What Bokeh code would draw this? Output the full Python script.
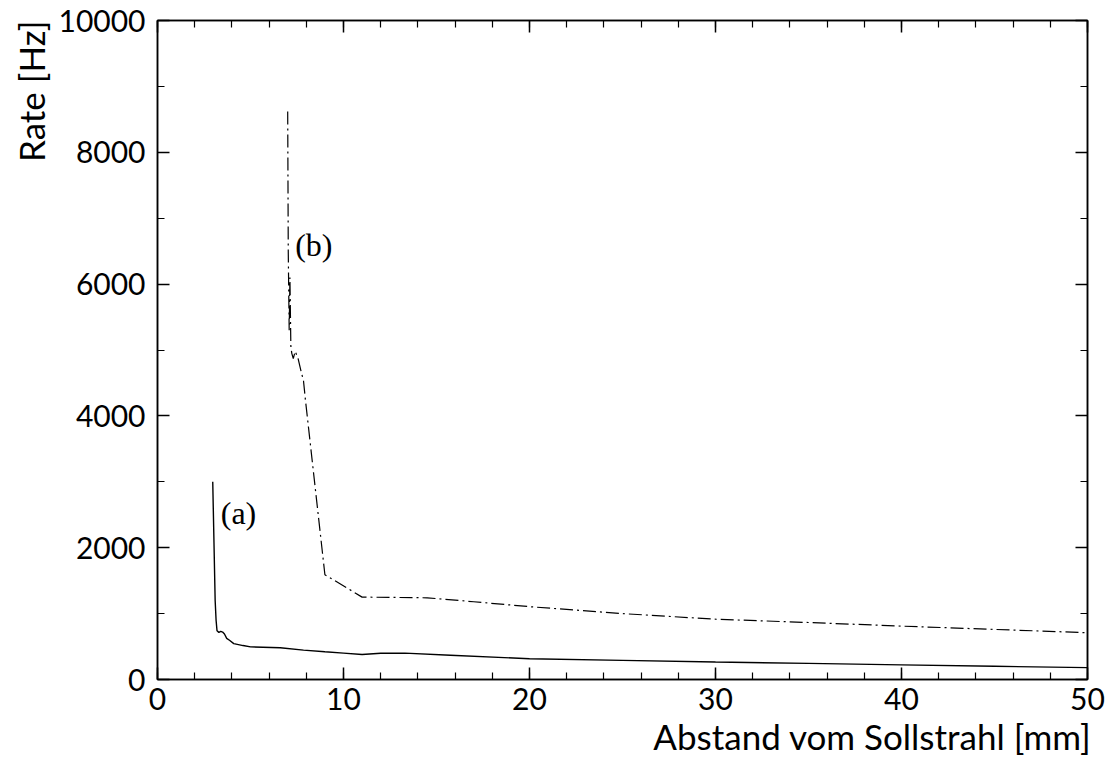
from bokeh.plotting import figure
from bokeh.models import Range1d, LinearAxis, SingleIntervalTicker, Title
from bokeh.core.properties import value
from bokeh.embed import file_html
from bokeh.resources import INLINE

# Curve (a): solid
a_x = [2.97, 3.1, 3.15, 3.2, 3.3, 3.4, 3.5, 3.6, 3.72, 3.87, 4.1, 4.6, 5.0, 6.6, 7.85,
       9.0, 10.0, 11.0, 12.0, 13.3, 15.75, 20, 25, 30, 35, 40, 45, 50]
a_y = [3000, 1200, 900, 740, 715, 730, 720, 690, 625, 595, 545, 515, 495, 482, 445,
       420, 400, 380, 398, 400, 368, 315, 290, 265, 245, 222, 200, 180]

# Curve (b): dash-dot
b_x = [7.0, 7.03, 7.08, 7.12, 7.17, 7.22, 7.3, 7.4, 7.55, 7.7, 7.85, 7.95, 9.0, 11.0,
       14.5, 17, 20, 25, 30, 35, 40, 45, 50]
b_y = [8620, 6500, 5300, 6100, 5050, 4950, 4870, 4980, 4880, 4700, 4530, 4250, 1590, 1250,
       1240, 1180, 1105, 1000, 915, 865, 810, 760, 710]

curve_labels = ["(a)", "(b)"]
label_x = [3.4, 7.4]
label_y = [2530, 6590]

x_ticks = [0, 10, 20, 30, 40, 50]
y_ticks = [0, 2000, 4000, 6000, 8000, 10000]

x_title = "Abstand vom Sollstrahl [mm]"
y_title = "Rate [Hz]"

TICK_FONT = "Lato"

p = figure(width=1113, height=765, output_backend="svg", toolbar_location=None,
           x_range=Range1d(0, 50), y_range=Range1d(0, 10000),
           x_axis_location=None, y_axis_location=None)
p.min_border = 0
p.min_border_left = 157
p.min_border_right = 26
p.min_border_top = 20
p.min_border_bottom = 86
p.background_fill_color = "white"
p.border_fill_color = "white"
p.outline_line_color = "black"
p.outline_line_width = 1.5
p.xgrid.visible = False
p.ygrid.visible = False


def style_axis(ax, show_labels, ticks):
    ax.axis_line_color = "black"
    ax.axis_line_width = 1.5
    ax.major_tick_in = 12
    ax.major_tick_out = 0
    ax.minor_tick_in = 7
    ax.minor_tick_out = 0
    ax.major_tick_line_width = 1.5
    ax.minor_tick_line_width = 1.2
    if show_labels:
        ax.major_label_text_font = TICK_FONT
        ax.major_label_text_font_size = "30px"
        ax.major_label_text_color = "black"
    else:
        ax.major_label_overrides = {t: "" for t in ticks}
        ax.major_label_standoff = 0


xb = LinearAxis(ticker=SingleIntervalTicker(interval=10, num_minor_ticks=5))
style_axis(xb, True, x_ticks)
xb.major_label_standoff = 8
p.add_layout(xb, "below")

yl = LinearAxis(ticker=SingleIntervalTicker(interval=2000, num_minor_ticks=2))
style_axis(yl, True, y_ticks)
yl.major_label_standoff = 12
p.add_layout(yl, "left")

xt = LinearAxis(ticker=SingleIntervalTicker(interval=10, num_minor_ticks=5))
style_axis(xt, False, x_ticks)
p.add_layout(xt, "above")

yr = LinearAxis(ticker=SingleIntervalTicker(interval=2000, num_minor_ticks=2))
style_axis(yr, False, y_ticks)
p.add_layout(yr, "right")

# Axis titles (right / top aligned as in the original)
tx = Title(text=x_title, align="right", text_font=TICK_FONT, text_font_size="35px",
           text_font_style="normal", text_color="black", standoff=0, offset=-4)
p.add_layout(tx, "below")
ty = Title(text=y_title, align="right", text_font=TICK_FONT, text_font_size="35px",
           text_font_style="normal", text_color="black", standoff=8)
p.add_layout(ty, "left")

p.line(a_x, a_y, line_color="black", line_width=1.4)
p.line(b_x, b_y, line_color="black", line_width=1.2, line_dash="13 4 2 4")

p.text(x=label_x, y=label_y, text=curve_labels, text_font=value("Liberation Serif"),
       text_font_size="32px", text_baseline="middle", text_align="left", text_color="black")

open("out.html", "w").write(file_html(p, INLINE))
